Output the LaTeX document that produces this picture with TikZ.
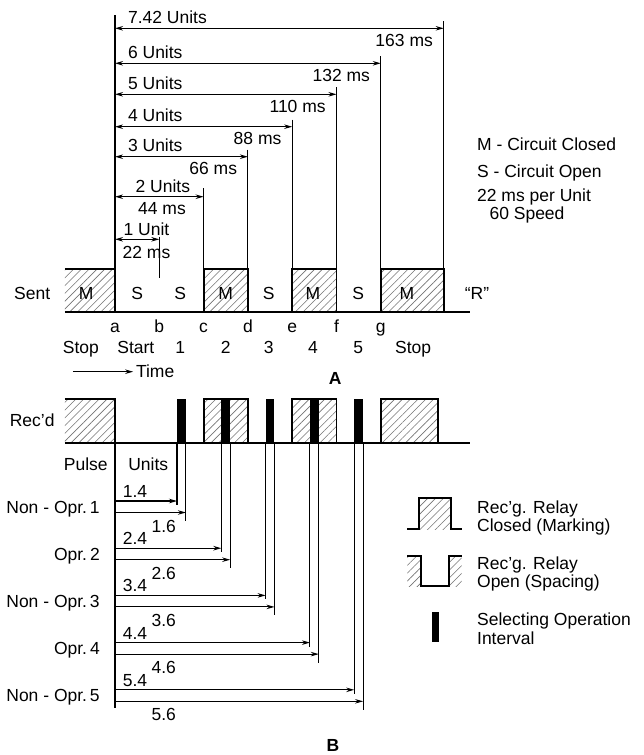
\documentclass[tikz,border=0pt]{standalone}
\usepackage{fontspec}
\setmainfont{Liberation Sans}
\usetikzlibrary{arrows.meta,patterns.meta}

\tikzset{
    wave/.style={line width=1.8pt},
    dim/.style={line width=1.1pt},
    hatch/.style={pattern={Lines[angle=45,distance=5.5pt,line width=0.6pt]}, pattern color=black!55},
    txt/.style={inner sep=0pt, text height=12pt, text depth=0pt},
    >={Stealth[length=8pt,width=4.5pt]}
}

\begin{document}
\begin{tikzpicture}[x=44.3pt, y=-1pt, font=\fontsize{17.5}{19}\selectfont]
    \useasboundingbox (-2.596,0) rectangle (11.919,755);
    % Sent
    \foreach \a/\b in {-1.13/0, 2/3, 4/5, 6/7.42}
        \fill[hatch] (\a,269) rectangle (\b,312.3);
    \draw[wave] (-1.13,269) -- (0,269) -- (0,312.3);
    \foreach \a/\b in {2/3, 4/5, 6/7.42}
        \draw[wave] (\a,312.3) -- (\a,269) -- (\b,269) -- (\b,312.3);
    \draw[wave] (-1.13,312.3) -- (8.01,312.3);
    \node[txt] at (-1.87,293) {Sent};
    \foreach \x/\t in {-0.65/M, 0.5/S, 1.47/S, 2.5/M, 3.47/S, 4.47/M, 5.49/S, 6.59/M}
        \node[txt] at (\x,293) {\t};
    \node[txt] at (8.17,293) {“R”};
    \foreach \x/\t in {0/a, 1/b, 2/c, 3/d, 4/e, 5/f, 6/g}
        \node[txt] at (\x,326) {\t};
    \foreach \x/\t in {-0.77/Stop, 0.47/Start, 1.47/1, 2.5/2, 3.47/3, 4.47/4, 5.49/5, 6.73/Stop}
        \node[txt] at (\x,347.7) {\t};
    \draw[dim,->] (-0.95,371.7) -- (0.41,371.7);
    \node[txt, anchor=west] at (0.47,371.7) {Time};
    \node[txt] at (4.97,378) {\bfseries A};

    % Units and ms
    \draw[dim] (0,15) -- (0,312.3);
    \foreach \len/\yy/\ms in {7.42/28.3/163, 6/63.3/132, 5/94.3/110, 4/126.7/88, 3/156.7/66} {
        \draw[dim] (\len,\yy-7) -- (\len,312.3);
        \draw[dim,<->] (0,\yy) -- (\len,\yy);
        \node[txt, anchor=west] at (0.29,\yy-11) {\len\ Units};
        \node[txt, anchor=east] at (\len-0.24,\yy+12) {\ms\ ms};
    }
    \draw[dim] (2,188.3) -- (2,312.3);
    \draw[dim,<->] (0,196.7) -- (2,196.7);
    \node[txt] at (1.08,186.7) {2 Units};
    \node[txt] at (1.06,208.3) {44 ms};
    \draw[dim] (1,236.7) -- (1,278);
    \draw[dim,<->] (0,239.3) -- (1,239.3);
    \node[txt] at (0.71,229.3) {1 Unit};
    \node[txt] at (0.71,252.3) {22 ms};

    \node[txt, anchor=west] at (8.17,144) {M - Circuit Closed};
    \node[txt, anchor=west] at (8.17,171.7) {S - Circuit Open};
    \node[txt, anchor=west] at (8.17,195) {22 ms per Unit};
    \node[txt, anchor=west] at (8.45,213) {60 Speed};

    % Rec'd
    \foreach \a/\b in {-1.13/0, 2/3, 4/5, 6/7.3}
        \fill[hatch] (\a,399) rectangle (\b,442.7);
    \draw[wave] (-1.13,399) -- (0,399) -- (0,442.7);
    \foreach \a/\b in {2/3, 4/5, 6/7.3}
        \draw[wave] (\a,442.7) -- (\a,399) -- (\b,399) -- (\b,442.7);
    \foreach \p in {1,...,5}
        \fill (\p.4,399) rectangle (\p.6,442.7);
    \draw[wave] (-1.13,442.7) -- (8.01,442.7);
    \node[txt] at (-1.87,420.7) {Rec'd};

    % Pulses
    \draw[dim] (0,442.7) -- (0,708);
    \node[txt, anchor=east] at (-0.16,464) {Pulse};
    \node[txt] at (0.75,464) {Units};
    \foreach \p/\t in {1/{Non - Opr.\,1}, 2/{Opr.\,2}, 3/{Non - Opr.\,3}, 4/{Opr.\,4}, 5/{Non - Opr.\,5}} {
        \pgfmathsetmacro\yy{453.8+47.2*\p}
        \draw[dim] (\p.4,442.7) -- (\p.4,\yy+4);
        \draw[dim] (\p.6,442.7) -- (\p.6,\yy+20);
        \draw[dim,->] (0,\yy) -- (\p.4,\yy);
        \draw[dim,->] (0,\yy+11.5) -- (\p.6,\yy+11.5);
        \node[txt] at (0.45,\yy-9.5) {\p.4};
        \node[txt] at (1.1,\yy+25) {\p.6};
        \node[txt, anchor=east] at (-0.34,\yy+6) {\t};
    }
    \node[txt] at (4.92,745) {\bfseries B};

    % legend
    \fill[hatch] (6.871,498.3) rectangle (7.578,529);
    \draw[wave] (6.598,529) -- (6.871,529) -- (6.871,498.3) -- (7.578,498.3) -- (7.578,529) -- (7.84,529);
    \node[txt, anchor=west] at (8.17,507) {Rec'g. Relay};
    \node[txt, anchor=west] at (8.17,525.3) {Closed (Marking)};
    \fill[hatch] (6.598,556) rectangle (6.901,586);
    \fill[hatch] (7.546,556) rectangle (7.826,586);
    \draw[wave] (6.598,556) -- (6.901,556) -- (6.901,586) -- (7.546,586) -- (7.546,556) -- (7.826,556);
    \node[txt, anchor=west] at (8.17,563.3) {Rec'g. Relay};
    \node[txt, anchor=west] at (8.17,581.7) {Open (Spacing)};
    \fill (7.162,611.7) rectangle (7.321,641.7);
    \node[txt, anchor=west] at (8.17,619.3) {Selecting Operation};
    \node[txt, anchor=west] at (8.17,638.3) {Interval};
\end{tikzpicture}
\end{document}
